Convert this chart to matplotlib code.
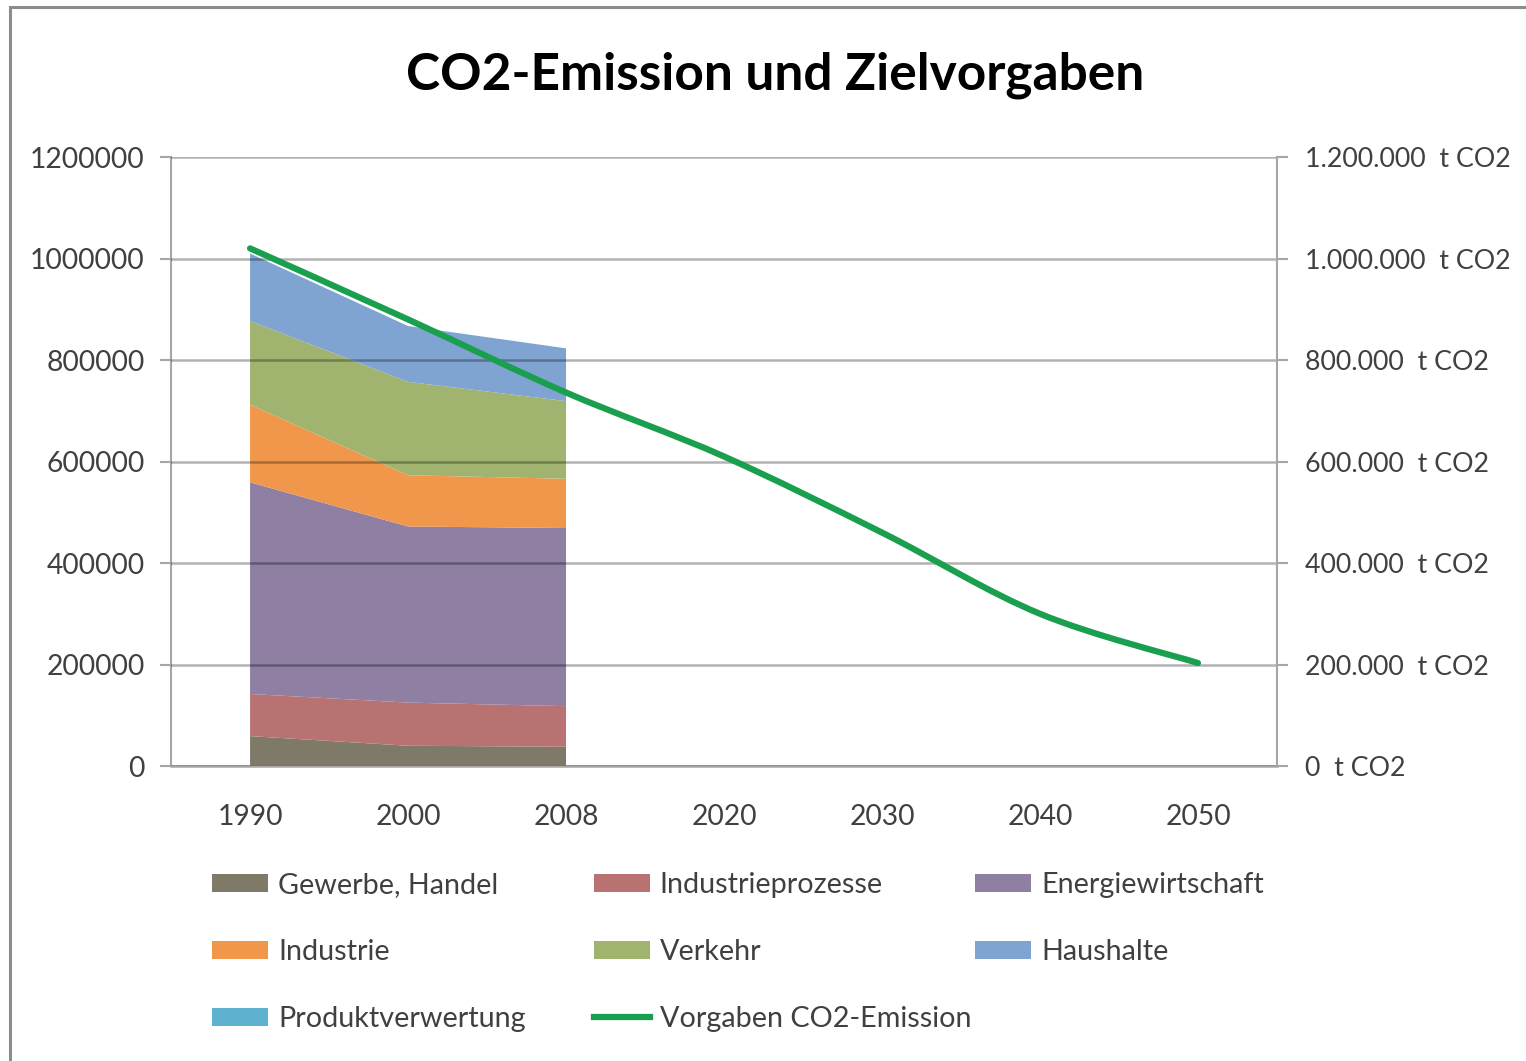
import matplotlib
matplotlib.use("Agg")
import matplotlib.pyplot as plt
import numpy as np
from matplotlib.path import Path
from matplotlib.patches import PathPatch, Patch, Rectangle
from matplotlib.lines import Line2D
from matplotlib.ticker import FuncFormatter, MultipleLocator

# ---------------- data ----------------
years = ["1990", "2000", "2008", "2020", "2030", "2040", "2050"]
area_years = ["1990", "2000", "2008"]
gewerbe_handel = [59000, 40000, 38000]
industrieprozesse = [83000, 85000, 80000]
energiewirtschaft = [417000, 347000, 351000]
industrie = [153000, 101000, 97000]
verkehr = [165000, 184000, 153000]
haushalte = [133000, 110000, 104000]
produktverwertung = [0, 0, 0]
vorgaben = [1020000, 880000, 736000, 610000, 460000, 300000, 203000]

series_names = ["Gewerbe, Handel", "Industrieprozesse", "Energiewirtschaft",
                "Industrie", "Verkehr", "Haushalte", "Produktverwertung"]
series_values = [gewerbe_handel, industrieprozesse, energiewirtschaft,
                 industrie, verkehr, haushalte, produktverwertung]
line_name = "Vorgaben CO2-Emission"

colors = ["#7f7a68", "#b87272", "#8e7fa3", "#f0974c", "#a1b46f", "#80a4d2", "#5fb1d0"]
line_color = "#1a9f4f"

plt.rcParams["font.family"] = ["Lato", "DejaVu Sans"]

fig = plt.figure(figsize=(15.26, 10.61), dpi=100)
fig.patch.set_facecolor("white")
# outer chart frame (only left and top edges fall inside the image)
fig.patches.append(Rectangle((0.0066, -0.02), 1.05, 1.0134, transform=fig.transFigure,
                             fill=False, edgecolor="#8c8c8c", linewidth=2.2))

ax = fig.add_axes([0.1121, 0.278, 0.7247, 0.574])
x_all = np.arange(len(years))
x_area = np.array([years.index(y) for y in area_years])

ax.stackplot(x_area, *series_values, colors=colors, linewidth=0, zorder=2)

# smoothed target line (Catmull-Rom bezier through the data points)
pts = np.column_stack([x_all, vorgaben]).astype(float)
verts = [pts[0]]
codes = [Path.MOVETO]
n = len(pts)
for i in range(n - 1):
    p0 = pts[i - 1] if i > 0 else pts[i]
    p1 = pts[i]
    p2 = pts[i + 1]
    p3 = pts[i + 2] if i + 2 < n else pts[i + 1]
    c1 = p1 + (p2 - p0) / 6.0
    c2 = p2 - (p3 - p1) / 6.0
    verts += [c1, c2, p2]
    codes += [Path.CURVE4] * 3
ax.add_patch(PathPatch(Path(verts, codes), fill=False, edgecolor=line_color,
                       linewidth=4.5, capstyle="round", joinstyle="round", zorder=4))

ax.set_xlim(-0.5, len(years) - 0.5)
ax.set_ylim(0, 1200000)
ax.yaxis.set_major_locator(MultipleLocator(200000))
ax.set_xticks(x_all)
ax.set_xticklabels(years)
ax.grid(axis="y", color="black", alpha=0.3, linewidth=1.8, zorder=3)
ax.set_axisbelow(False)
for s in ["top", "right"]:
    ax.spines[s].set_visible(False)
ax.spines["left"].set_color("#a6a6a6")
ax.spines["left"].set_linewidth(1.5)
ax.spines["bottom"].set_color("#a6a6a6")
ax.spines["bottom"].set_linewidth(1.8)
ax.tick_params(axis="y", length=8, width=1.5, color="#a6a6a6", labelsize=20.3,
               labelcolor="#404040", pad=11)
ax.tick_params(axis="x", length=0, labelsize=20.3, labelcolor="#404040", pad=27)
ax.yaxis.set_major_formatter(FuncFormatter(lambda v, p: f"{int(v)}"))

ax2 = ax.twinx()
ax2.set_ylim(ax.get_ylim())
ax2.yaxis.set_major_locator(MultipleLocator(200000))
for s in ["top", "left", "bottom"]:
    ax2.spines[s].set_visible(False)
ax2.spines["right"].set_color("#a6a6a6")
ax2.spines["right"].set_linewidth(1.5)
ax2.tick_params(axis="y", length=8, width=1.5, color="#a6a6a6", labelsize=19.3,
                labelcolor="#404040", pad=12)
ax2.yaxis.set_major_formatter(
    FuncFormatter(lambda v, p: f"{int(v):,}".replace(",", ".") + "  t CO2"))

fig.suptitle("CO2-Emission und Zielvorgaben", x=0.508, y=0.929, va="center",
             fontsize=37, fontweight="bold", color="black")

# legend, three columns in row-major order
handles = [Patch(facecolor=c, edgecolor="none") for c in colors]
handles.append(Line2D([0], [0], color=line_color, linewidth=4.5))
labels = series_names + [line_name]
col_x = [0.139, 0.389, 0.639]
for c in range(3):
    idx = list(range(c, len(labels), 3))
    leg = fig.legend([handles[i] for i in idx], [labels[i] for i in idx],
                     loc="upper left", bbox_to_anchor=(col_x[c], 0.178),
                     frameon=False, fontsize=20.7, handlelength=1.95, handleheight=0.6,
                     handletextpad=0.35, labelspacing=1.42, borderaxespad=0,
                     borderpad=0, labelcolor="#404040")

fig.savefig("out.png", dpi=100, facecolor="white")
